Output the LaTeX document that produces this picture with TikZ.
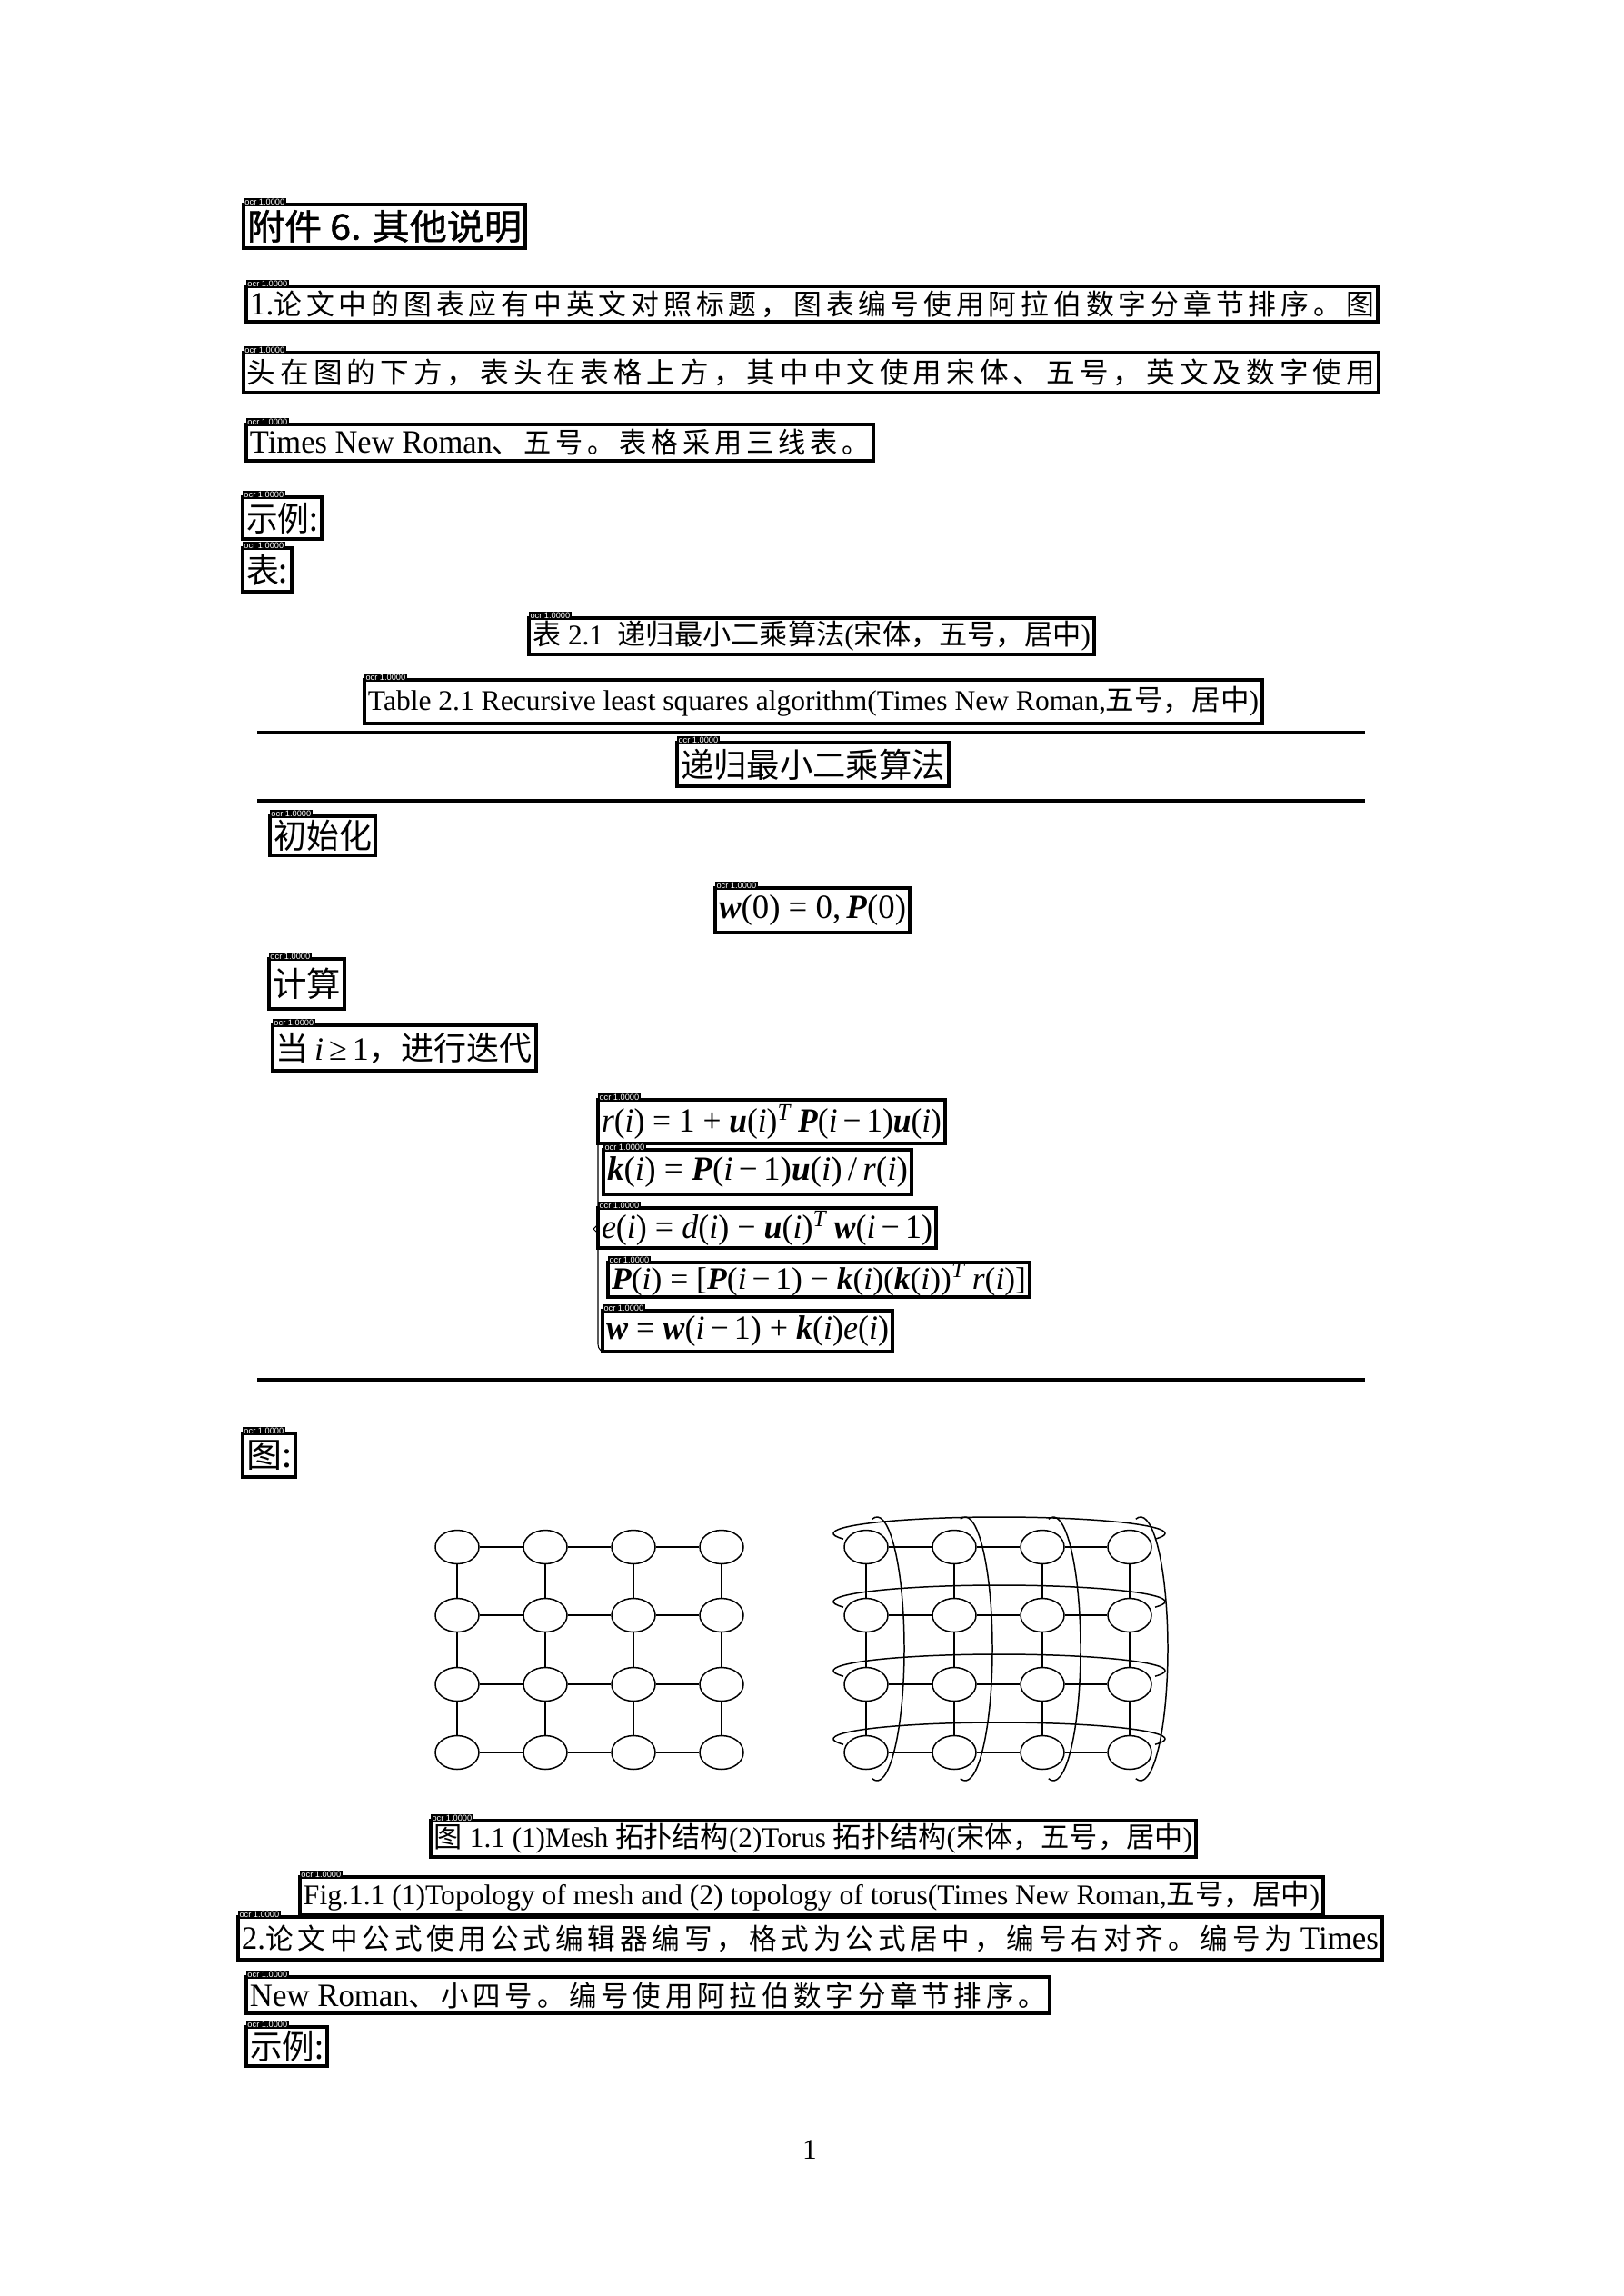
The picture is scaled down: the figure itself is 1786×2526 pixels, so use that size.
\documentclass[tikz,border=0pt]{standalone}
\usepackage{fontspec}
\usepackage{graphicx}
\setmainfont{Liberation Serif}
\newfontfamily\zh{Noto Sans CJK SC}
\newfontfamily\zhsp[LetterSpace=16]{Noto Sans CJK SC}
\newfontfamily\zhbf[FakeBold=1.2]{Noto Sans CJK SC}
\newfontfamily\tagfont{Liberation Sans}
\usetikzlibrary{positioning}
\usetikzlibrary{calc}
\usetikzlibrary{shapes.geometric}
\usetikzlibrary{shadows}

\newdimen\pxu \pxu=0.33455pt
\newcommand{\fitw}[2]{\resizebox{\dimexpr#1\pxu-8\pxu\relax}{\height}{#2}}
\newcommand{\zt}[1]{{\zhsp\fontsize{10.5}{12}\selectfont #1}}
\newcommand{\zc}[1]{{\zh #1}}
\newcommand{\vb}[1]{\textbf{\textit{#1}}}
\newcommand{\vi}[1]{\textit{#1}}
\newcommand{\ms}{\hspace{0.25em}}
\newcommand{\sptT}{\textsuperscript{\vi{T}}}

\tikzset{
  ocrtag/.style={anchor=south west, fill=black, text=white, inner xsep=0.5pt, inner ysep=0.45pt,
    outer sep=0pt, yshift=-0.6pt, font=\tagfont\fontsize{3.1}{3.2}\selectfont},
  ocrbox/.style={draw, line width=1.05pt, fill=white, inner sep=0pt, outer sep=0pt, anchor=north west,
    drop shadow={shadow xshift=0.75pt, shadow yshift=-0.75pt, opacity=1, fill=black},
    label={[ocrtag]north west:ocr 1.0000}},
  body/.style={font=\fontsize{12}{14}\selectfont},
  capt/.style={font=\fontsize{10.5}{12.5}\selectfont},
  eqn/.style={font=\fontsize{12.5}{15}\selectfont},
  rule/.style={line width=1.5pt},
  vert/.style={ellipse, draw, line width=0.5pt, inner sep=0pt, minimum width=48\pxu, minimum height=37\pxu},
  hedge/.style={line width=0.65pt},
  vedge/.style={line width=0.4pt},
  wrap/.style={line width=0.5pt}
}

\begin{document}
\begin{tikzpicture}[x=0.117581mm, y=-0.117581mm]
\fill[white] (0,0) rectangle (1786,2526);
\useasboundingbox (0,0) rectangle (1786,2526);

\node[ocrbox, minimum width=310\pxu, minimum height=48\pxu] (title) at (268,225)
  {\fitw{310}{\zhbf\fontsize{13}{15}\selectfont 附件 6. 其他说明}};
\node[ocrbox, body, minimum width=1245\pxu, minimum height=39\pxu] (p1) at (271,315)
  {\fitw{1245}{1.\zt{论文中的图表应有中英文对照标题，图表编号使用阿拉伯数字分章节排序。图}}};
\node[ocrbox, body, minimum width=1249\pxu, minimum height=44\pxu] (p2) at (268,388)
  {\fitw{1249}{\zt{头在图的下方，表头在表格上方，其中中文使用宋体、五号，英文及数字使用}}};
\node[ocrbox, body, minimum width=690\pxu, minimum height=40\pxu] (p3) at (271,467)
  {\fitw{690}{Times New Roman\zt{、五号。表格采用三线表。}}};
\node[ocrbox, minimum width=87\pxu, minimum height=46\pxu] (ex1) at (267,547)
  {\fitw{87}{\zh\fontsize{12.5}{14}\selectfont 示例:}};
\node[ocrbox, minimum width=54\pxu, minimum height=48\pxu] (tb) at (267,603)
  {\fitw{54}{\zh\fontsize{12.5}{14}\selectfont 表:}};

\node[ocrbox, capt, minimum width=622\pxu, minimum height=40\pxu] (cap1) at (582,680)
  {\fitw{622}{\zc{表} 2.1\ \ \zc{递归最小二乘算法}(\zc{宋体，五号，居中})}};
\node[ocrbox, capt, minimum width=988\pxu, minimum height=48\pxu] (cap2) at (401,748)
  {\fitw{988}{Table 2.1 Recursive least squares algorithm(Times New Roman,\zc{五号，居中})}};

\draw[rule] (283,806) -- (1502,806);
\node[ocrbox, minimum width=299\pxu, minimum height=48\pxu] (hd) at (745,817)
  {\fitw{299}{\zh\fontsize{12.4}{14}\selectfont 递归最小二乘算法}};
\draw[rule] (283,881) -- (1502,881);

\node[ocrbox, minimum width=116\pxu, minimum height=43\pxu] (init) at (297,898)
  {\fitw{116}{\zh\fontsize{12.5}{14}\selectfont 初始化}};
\node[ocrbox, eqn, minimum width=214\pxu, minimum height=49\pxu] (w0) at (787,977)
  {\fitw{214}{\vb{w}(0)\ms=\ms0,\,\vb{P}(0)}};
\node[ocrbox, minimum width=83\pxu, minimum height=55\pxu] (calc) at (296,1055)
  {\fitw{83}{\zh\fontsize{12.5}{14}\selectfont 计算}};
\node[ocrbox, body, minimum width=290\pxu, minimum height=50\pxu] (iter) at (300,1128)
  {\fitw{290}{\zc{当}\,\vi{i}\,≥\,1\zc{，进行迭代}}};

\draw[line width=0.35pt] (667,1213) to[out=180,in=90] (658,1222) -- (658,1347) -- (653,1352)
  -- (658,1357) -- (658,1479) to[out=-90,in=180] (667,1488);

\node[ocrbox, eqn, minimum width=382\pxu, minimum height=48\pxu] (eq1) at (658,1210)
  {\fitw{382}{\vi{r}(\vi{i})\ms=\ms1\ms+\ms\vb{u}(\vi{i})\sptT\,\vb{P}(\vi{i}\,−\,1)\vb{u}(\vi{i})}};
\node[ocrbox, eqn, minimum width=339\pxu, minimum height=49\pxu] (eq2) at (664,1265)
  {\fitw{339}{\vb{k}(\vi{i})\ms=\ms\vb{P}(\vi{i}\,−\,1)\vb{u}(\vi{i})\,/\,\vi{r}(\vi{i})}};
\node[ocrbox, eqn, minimum width=372\pxu, minimum height=44\pxu] (eq3) at (658,1329)
  {\fitw{372}{\vi{e}(\vi{i})\ms=\ms\vi{d}(\vi{i})\ms−\ms\vb{u}(\vi{i})\sptT\,\vb{w}(\vi{i}\,−\,1)}};
\node[ocrbox, font=\fontsize{11.5}{13}\selectfont, minimum width=464\pxu, minimum height=38\pxu] (eq4) at (669,1389)
  {\fitw{464}{\vb{P}(\vi{i})\ms=\ms[\vb{P}(\vi{i}\,−\,1)\ms−\ms\vb{k}(\vi{i})(\vb{k}(\vi{i}))\sptT\,\vi{r}(\vi{i})]}};
\node[ocrbox, eqn, minimum width=319\pxu, minimum height=45\pxu] (eq5) at (663,1442)
  {\fitw{319}{\vb{w}\ms=\ms\vb{w}(\vi{i}\,−\,1)\ms+\ms\vb{k}(\vi{i})\vi{e}(\vi{i})}};

\draw[rule] (283,1518) -- (1502,1518);

\node[ocrbox, minimum width=58\pxu, minimum height=48\pxu] (fig) at (267,1577)
  {\fitw{58}{\zh\fontsize{12.5}{14}\selectfont 图:}};

\foreach \r/\y in {1/1702,2/1777,3/1853,4/1928}{
  \foreach \c/\x in {1/503,2/600,3/697,4/794}{
    \node[vert] (m-\r-\c) at (\x,\y) {};
  }
  \foreach \c/\x in {1/953,2/1050,3/1147,4/1243}{
    \node[vert] (t-\r-\c) at (\x,\y) {};
  }
}
\foreach \r in {1,...,4}{
  \foreach \c in {1,2,3}{
    \pgfmathtruncatemacro{\n}{\c+1}
    \draw[hedge] (m-\r-\c) -- (m-\r-\n);
    \draw[hedge] (t-\r-\c) -- (t-\r-\n);
    \draw[vedge] (m-\c-\r) -- (m-\n-\r);
    \draw[vedge] (t-\c-\r) -- (t-\n-\r);
  }
}
\foreach \y in {1702,1777,1853,1928}{
  \draw[wrap] (1099.5,\y-15) ++(160:182.5 and 18) arc[start angle=160, end angle=380, x radius=182.5, y radius=18];
}
\foreach \x in {953,1050,1147,1243}{
  \draw[wrap] (\x+12,1814) ++(-100:30 and 145) arc[start angle=-100, end angle=100, x radius=30, y radius=145];
}

\node[ocrbox, capt, minimum width=842\pxu, minimum height=40\pxu] (figcap1) at (474,2003)
  {\fitw{842}{\zc{图} 1.1 (1)Mesh \zc{拓扑结构}(2)Torus \zc{拓扑结构}(\zc{宋体，五号，居中})}};
\node[ocrbox, capt, minimum width=1126\pxu, minimum height=42\pxu] (figcap2) at (330,2065)
  {\fitw{1126}{Fig.1.1 (1)Topology of mesh and (2) topology of torus(Times New Roman,\zc{五号，居中})}};
\node[ocrbox, body, minimum width=1259\pxu, minimum height=47\pxu] (q1) at (262,2109)
  {\fitw{1259}{2.\zt{论文中公式使用公式编辑器编写，格式为公式居中，编号右对齐。编号为} Times}};
\node[ocrbox, body, minimum width=884\pxu, minimum height=40\pxu] (q2) at (271,2175)
  {\fitw{884}{New Roman\zt{、小四号。编号使用阿拉伯数字分章节排序。}}};
\node[ocrbox, minimum width=89\pxu, minimum height=43\pxu] (ex2) at (271,2230)
  {\fitw{89}{\zh\fontsize{12.5}{14}\selectfont 示例:}};

\node[font=\fontsize{10.5}{12}\selectfont] (pg) at (891,2365) {1};
\end{tikzpicture}
\end{document}
